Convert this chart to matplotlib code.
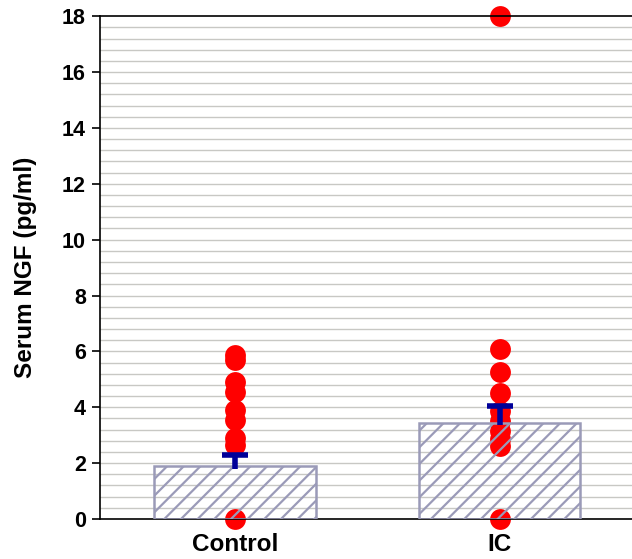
"""Serum NGF by group: hatched mean bars with SEM, individual points overlaid."""

import matplotlib
matplotlib.use("Agg")
import matplotlib.pyplot as plt
import numpy as np

# --- Data ---
groups = ["Control", "IC"]
means = [1.9, 3.45]
sems = [0.38, 0.58]
control_points = [5.87, 5.69, 4.9, 4.55, 3.9, 3.54, 2.9, 2.65, 0.0]
ic_points = [18.0, 6.1, 5.26, 4.5, 3.85, 3.5, 3.15, 2.85, 2.6, 0.0]

BAR_EDGE = "#9a9ab8"
DOT_RED = "#ff0000"
ERR_BLUE = "#000099"
GRID = "#c8c8c4"

plt.rcParams["font.family"] = ["Liberation Sans", "DejaVu Sans"]
plt.rcParams["hatch.linewidth"] = 1.6
plt.rcParams["hatch.color"] = BAR_EDGE


def main():
    fig = plt.figure(figsize=(6.32, 5.59), dpi=100)
    ax = fig.add_axes([0.158, 0.0716, 0.842, 0.8994])

    x = np.arange(len(groups))
    means_arr = np.array(means)
    tops = means_arr + np.array(sems)

    # background grid every 0.4
    for yv in np.arange(0.4, 18.0, 0.4):
        ax.axhline(yv, color=GRID, linewidth=1.0, zorder=0)

    # individual points
    for xi, pts in zip(x, [control_points, ic_points]):
        ax.plot([xi] * len(pts), pts, "o", color=DOT_RED, markersize=15,
                markeredgewidth=0, zorder=2, clip_on=False)

    # hatched bars (no fill, so dots show through)
    ax.bar(x, means, width=0.61, facecolor="none", edgecolor=BAR_EDGE,
           hatch="//", linewidth=1.8, zorder=3)

    # upper-only error bars: stem plus a top cap
    ax.vlines(x, means_arr - 0.1, tops, color=ERR_BLUE, linewidth=4, zorder=4)
    ax.plot(x, tops, linestyle="none", marker="_", markersize=19,
            markeredgewidth=4, color=ERR_BLUE, zorder=4)

    ax.set_xlim(-0.51, 1.5)
    ax.set_ylim(0, 18)
    ax.set_yticks(np.arange(0, 19, 2))
    ax.set_xticks(x)
    ax.set_xticklabels(groups, fontsize=17.5, fontweight="bold")
    ax.tick_params(axis="y", labelsize=15.5, width=1.2, length=6,
                   direction="out", pad=4)
    ax.tick_params(axis="x", length=0, pad=10)
    for lbl in ax.get_yticklabels():
        lbl.set_fontweight("bold")

    ax.set_ylabel("Serum NGF (pg/ml)", fontsize=17.5, fontweight="bold",
                  labelpad=18)

    for side in ["left", "bottom", "top"]:
        ax.spines[side].set_color("black")
        ax.spines[side].set_linewidth(1.2)
    ax.spines["right"].set_visible(False)

    fig.savefig("out.png", dpi=100, facecolor="white")
    plt.close(fig)


if __name__ == "__main__":
    main()
